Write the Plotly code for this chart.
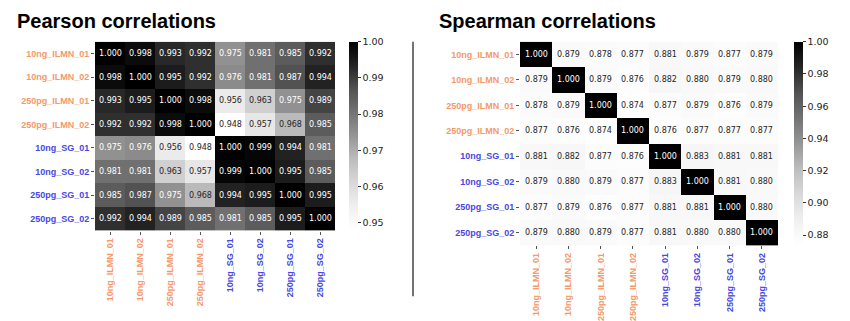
import plotly.graph_objects as go

# Sample names (rows and columns of both matrices)
samples = ["10ng_ILMN_01", "10ng_ILMN_02", "250pg_ILMN_01", "250pg_ILMN_02",
           "10ng_SG_01", "10ng_SG_02", "250pg_SG_01", "250pg_SG_02"]
platform = ["ILMN", "ILMN", "ILMN", "ILMN", "SG", "SG", "SG", "SG"]

pearson = [
    [1.000, 0.998, 0.993, 0.992, 0.975, 0.981, 0.985, 0.992],
    [0.998, 1.000, 0.995, 0.992, 0.976, 0.981, 0.987, 0.994],
    [0.993, 0.995, 1.000, 0.998, 0.956, 0.963, 0.975, 0.989],
    [0.992, 0.992, 0.998, 1.000, 0.948, 0.957, 0.968, 0.985],
    [0.975, 0.976, 0.956, 0.948, 1.000, 0.999, 0.994, 0.981],
    [0.981, 0.981, 0.963, 0.957, 0.999, 1.000, 0.995, 0.985],
    [0.985, 0.987, 0.975, 0.968, 0.994, 0.995, 1.000, 0.995],
    [0.992, 0.994, 0.989, 0.985, 0.981, 0.985, 0.995, 1.000],
]

spearman = [
    [1.000, 0.879, 0.878, 0.877, 0.881, 0.879, 0.877, 0.879],
    [0.879, 1.000, 0.879, 0.876, 0.882, 0.880, 0.879, 0.880],
    [0.878, 0.879, 1.000, 0.874, 0.877, 0.879, 0.876, 0.879],
    [0.877, 0.876, 0.874, 1.000, 0.876, 0.877, 0.877, 0.877],
    [0.881, 0.882, 0.877, 0.876, 1.000, 0.883, 0.881, 0.881],
    [0.879, 0.880, 0.879, 0.877, 0.883, 1.000, 0.881, 0.880],
    [0.877, 0.879, 0.876, 0.877, 0.881, 0.881, 1.000, 0.880],
    [0.879, 0.880, 0.879, 0.877, 0.881, 0.880, 0.880, 1.000],
]

pearson_ticks = [0.95, 0.96, 0.97, 0.98, 0.99, 1.00]
spearman_ticks = [0.88, 0.90, 0.92, 0.94, 0.96, 0.98, 1.00]

W, H = 850, 321
PLATFORM_COLOR = {"ILMN": "#F4996A", "SG": "#4848E2"}
LABEL_FONT = "Liberation Sans, Arial, sans-serif"
CELL_FONT = "DejaVu Sans, sans-serif"

greys = ["#ffffff", "#f0f0f0", "#d9d9d9", "#bdbdbd", "#969696",
         "#737373", "#525252", "#252525", "#000000"]
colorscale = [[i / (len(greys) - 1), c] for i, c in enumerate(greys)]


def px_x(p):
    return p / W


def px_y(p):
    return 1 - p / H


ticktext = [
    f"<span style='color:{PLATFORM_COLOR[p]}'><b>{s}</b></span>"
    for s, p in zip(samples, platform)
]

fig = go.Figure()

panels = [
    # matrix, ticks, x-range px, y-range px, colorbar x px, axes suffix, cell font
    (pearson, pearson_ticks, (95, 335), (42, 232), 349, "", 8),
    (spearman, spearman_ticks, (520, 778), (42, 247), 794, "2", 8),
]

annotations = []
for mat, cticks, (x0, x1), (y0, y1), cbx, suf, cfs in panels:
    flat = [v for row in mat for v in row]
    zmin, zmax = min(flat), max(flat)
    fig.add_trace(go.Heatmap(
        z=mat, x=samples, y=samples,
        zmin=zmin, zmax=zmax, colorscale=colorscale,
        xaxis="x" + suf, yaxis="y" + suf,
        xgap=0, ygap=0,
        colorbar=dict(
            x=px_x(cbx), xanchor="left", xpad=0,
            y=px_y(y0), yanchor="top", ypad=0,
            lenmode="pixels", len=(y1 - y0) - 2,
            thicknessmode="pixels", thickness=9,
            outlinewidth=0,
            tickvals=cticks, ticktext=[f"{t:.2f}" for t in cticks],
            ticks="outside", ticklen=3, tickwidth=1, tickcolor="#333",
            tickfont=dict(family=CELL_FONT, size=9.5, color="#222"),
        ),
        hovertemplate="%{y} vs %{x}: %{z:.3f}<extra></extra>",
    ))
    for i, ys in enumerate(samples):
        for j, xs in enumerate(samples):
            v = mat[i][j]
            t = (v - zmin) / (zmax - zmin)
            annotations.append(dict(
                x=xs, y=ys, xref="x" + suf, yref="y" + suf,
                text=f"{v:.3f}", showarrow=False,
                font=dict(family=CELL_FONT, size=cfs,
                          color="#ffffff" if t > 0.4 else "#262626"),
            ))
    axis_common = dict(
        tickvals=samples, ticktext=ticktext,
        ticks="outside", ticklen=3, tickwidth=1, tickcolor="#555",
        tickfont=dict(family=LABEL_FONT, size=9),
        showgrid=False, zeroline=False, showline=False, fixedrange=True,
    )
    fig.update_layout(**{
        "xaxis" + suf: dict(domain=[px_x(x0), px_x(x1)], anchor="y" + suf,
                            tickangle=-90, **axis_common),
        "yaxis" + suf: dict(domain=[px_y(y1), px_y(y0)], anchor="x" + suf,
                            autorange="reversed", **axis_common),
    })

# Panel titles
annotations += [
    dict(text="<b>Pearson correlations</b>", x=px_x(15), y=px_y(21),
         xref="paper", yref="paper", xanchor="left", yanchor="middle",
         showarrow=False, font=dict(family=LABEL_FONT, size=20, color="#000")),
    dict(text="<b>Spearman correlations</b>", x=px_x(437), y=px_y(21),
         xref="paper", yref="paper", xanchor="left", yanchor="middle",
         showarrow=False, font=dict(family=LABEL_FONT, size=20, color="#000")),
]

fig.update_layout(
    width=W, height=H,
    margin=dict(l=0, r=0, t=0, b=0),
    paper_bgcolor="#ffffff", plot_bgcolor="#ffffff",
    annotations=annotations,
    shapes=[dict(type="line", xref="paper", yref="paper",
                 x0=px_x(413), x1=px_x(413), y0=px_y(298), y1=px_y(42),
                 line=dict(color="#444", width=1.5))],
    showlegend=False,
)

fig.write_html("out.html")
